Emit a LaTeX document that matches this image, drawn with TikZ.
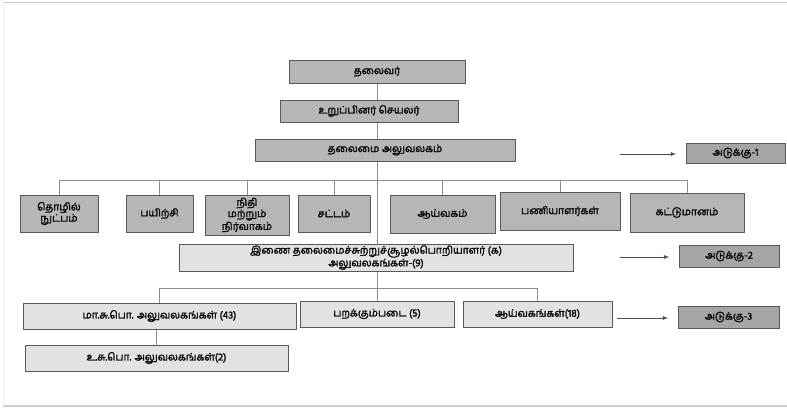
\documentclass[tikz,border=0pt]{standalone}
\usepackage{fontspec}
\newfontfamily\tamilfont[Script=Tamil, FakeBold=1.8]{Hind Madurai}
\usetikzlibrary{backgrounds}
\definecolor{boxdark}{RGB}{182,182,182}
\definecolor{boxtier}{RGB}{165,165,165}
\definecolor{boxlight}{RGB}{226,226,226}
\definecolor{linkgray}{RGB}{140,140,140}
\begin{document}
\begin{tikzpicture}[x=0.03cm, y=-0.03cm,
    every node/.style={draw=black!65, line width=0.8pt, inner sep=1pt, align=center,
        font=\tamilfont\fontsize{8.8}{9.6}\selectfont},
    dark/.style={fill=boxdark},
    light/.style={fill=boxlight},
    tier/.style={fill=boxtier},
    link/.style={draw=linkgray, line width=0.6pt},
    tierarrow/.style={draw=black!70, line width=0.6pt, -latex, shorten >=8pt}]
        \useasboundingbox (0,0) rectangle (787,409);
        \draw[black!20, line width=1pt] (3,2.5) -- (787,2.5);
        \draw[black!20, line width=1pt] (3,406) -- (787,406);
        \draw[black!6] (3,2.5) -- (3,406);

        % Livello superiore
        \node (top) at (377,71.5) [dark, minimum width=5.28cm, minimum height=0.69cm] {தலைவர்};
        \node (ms) at (369,111) [dark, minimum width=5.34cm, minimum height=0.66cm] {உறுப்பினர் செயலர்};
        \node (ho) at (385,150) [dark, minimum width=7.8cm, minimum height=0.66cm] {தலைமை அலுவலகம்};

        % Pirivugal
        \node (tech) at (59,213.5) [dark, minimum width=2.34cm, minimum height=1.11cm] {தொழில்\\நுட்பம்};
        \node (train) at (159.5,213.5) [dark, minimum width=2.01cm, minimum height=1.11cm] {பயிற்சி};
        \node (fin) at (247,215) [dark, minimum width=2.52cm, minimum height=1.2cm] {நிதி\\மற்றும்\\நிர்வாகம்};
        \node (law) at (334,213.5) [dark, minimum width=2.16cm, minimum height=1.11cm] {சட்டம்};
        \node (lab) at (442.5,214) [dark, minimum width=3.15cm, minimum height=1.14cm] {ஆய்வகம்};
        \node (staff) at (560,211) [dark, minimum width=3.6cm, minimum height=1.14cm] {பணியாளர்கள்};
        \node (cons) at (687,212.5) [dark, minimum width=3.42cm, minimum height=1.17cm] {கட்டுமானம்};

        % Livello intermedio
        \node (joint) at (376,257.5) [light, minimum width=11.82cm, minimum height=0.81cm] {இணை தலைமைச்சுற்றுச்சூழல்பொறியாளர் (க)\\அலுவலகங்கள்-(9)};

        % Livello inferiore
        \node (dist) at (159.5,316) [light, minimum width=8.19cm, minimum height=0.78cm] {மா.சு.பொ. அலுவலகங்கள் (43)};
        \node (fly) at (377,314) [light, minimum width=4.62cm, minimum height=0.78cm] {பறக்கும்படை (5)};
        \node (labs) at (537.5,314) [light, minimum width=4.47cm, minimum height=0.78cm] {ஆய்வகங்கள்(18)};
        \node (asst) at (156.5,358) [light, minimum width=7.89cm, minimum height=0.78cm] {உ.சு.பொ. அலுவலகங்கள்(2)};

        % Adukku
        \node (t1) at (735.5,153) [tier, minimum width=2.97cm, minimum height=0.6cm] {அடுக்கு-1};
        \node (t2) at (729,256) [tier, minimum width=3cm, minimum height=0.66cm] {அடுக்கு-2};
        \node (t3) at (728.5,317) [tier, minimum width=3.03cm, minimum height=0.66cm] {அடுக்கு-3};
        \coordinate (a1) at (620,154);
        \coordinate (a2) at (620,257);
        \coordinate (a3) at (617,318);
        \draw[tierarrow] (a1) -- (a1 -| t1.west);
        \draw[tierarrow] (a2) -- (a2 -| t2.west);
        \draw[tierarrow] (a3) -- (a3 -| t3.west);

        % Collegamenti
        \coordinate (bus1) at (377,180);
        \coordinate (bus3) at (377,288);
        \begin{scope}[on background layer]
            \draw[link] (top.south) -- (bus3);
            \draw[link] (bus1) -| (tech.north);
            \draw[link] (bus1) -| (train.north);
            \draw[link] (bus1) -| (fin.north);
            \draw[link] (bus1) -| (law.north);
            \draw[link] (bus1) -| (lab.north);
            \draw[link] (bus1) -| (staff.north);
            \draw[link] (bus1) -| (cons.north);
            \draw[link] (bus3) -| (dist.north);
            \draw[link] (bus3) -- (fly.north);
            \draw[link] (bus3) -| (labs.north);
            \draw[link] (asst.north |- dist.south) -- (asst.north);
        \end{scope}
    \end{tikzpicture}
\end{document}
